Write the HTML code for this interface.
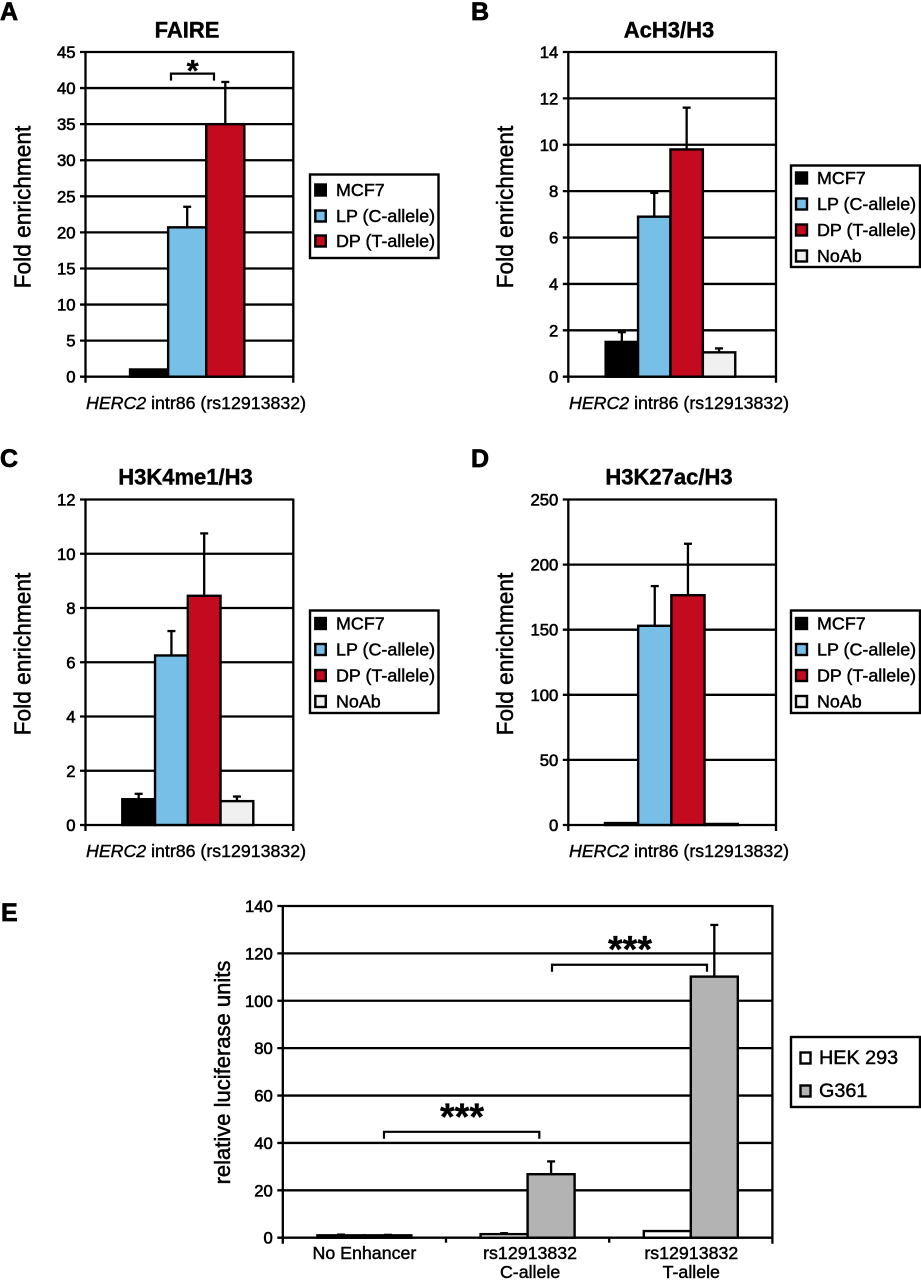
<!DOCTYPE html>
<html lang="en">
<head>
<meta charset="utf-8">
<title>Fold enrichment and luciferase charts</title>
<style>
html,body{margin:0;padding:0;background:#fff;}
svg{display:block;}
text{font-family:"Liberation Sans",sans-serif;fill:#000;stroke:#000;stroke-width:.5px;}
.letter{font-size:25px;font-weight:bold;stroke-width:.7px;}
.title{font-size:22px;font-weight:bold;text-anchor:middle;stroke-width:.4px;}
.ylab{font-size:22.7px;text-anchor:middle;stroke-width:.5px;}
.xlab{font-size:17.75px;stroke-width:.4px;}
.leg{font-size:17.9px;stroke-width:.45px;}
.tick{font-size:16.7px;text-anchor:end;stroke-width:.6px;}
.cat{font-size:17.8px;text-anchor:middle;stroke-width:.45px;}
.star{font-weight:bold;text-anchor:middle;stroke-width:.3px;}
.box{fill:#fff;stroke:#000;stroke-width:2.4;}
.sw{stroke:#000;stroke-width:2.4;}
.br{fill:none;stroke:#000;stroke-width:2.2;}
</style>
</head>
<body>
<svg id="figure" xmlns="http://www.w3.org/2000/svg" width="921" height="1280" viewBox="0 0 921 1280">
  <rect width="921" height="1280" fill="#fff"/>

  <g id="panel-a">
    <text class="letter" x="0" y="20">A</text>
    <text class="title" x="187" y="37.5">FAIRE</text>
    <text class="ylab" transform="translate(30.5 207) rotate(-90)">Fold enrichment</text>
    <text class="xlab" x="86" y="409"><tspan font-style="italic">HERC2</tspan> intr86 (rs12913832)</text>
  </g>
  <g>
    <text class="star" x="192.7" y="81" font-size="31">*</text>
  </g>
  <g>
    <rect class="box" x="310" y="174.5" width="128.5" height="83.5"/>
    <rect class="sw" x="315.3" y="184.5" width="10.5" height="11" fill="#000"/>
    <text class="leg" x="336" y="196">MCF7</text>
    <rect class="sw" x="315.3" y="210.5" width="10.5" height="11" fill="#78bfe8"/>
    <text class="leg" x="336" y="222">LP (C-allele)</text>
    <rect class="sw" x="315.3" y="235.5" width="10.5" height="11" fill="#c40a1f"/>
    <text class="leg" x="336" y="247">DP (T-allele)</text>
  </g>

  <g id="panel-b">
    <text class="letter" x="471" y="20">B</text>
    <text class="title" x="669" y="37.5">AcH3/H3</text>
    <text class="ylab" transform="translate(513 207) rotate(-90)">Fold enrichment</text>
    <text class="xlab" x="569" y="409"><tspan font-style="italic">HERC2</tspan> intr86 (rs12913832)</text>
  </g>
  <g>
    <rect class="box" x="791" y="165.5" width="129" height="101.5"/>
    <rect class="sw" x="796" y="172.5" width="11" height="11" fill="#000"/>
    <text class="leg" x="817" y="184">MCF7</text>
    <rect class="sw" x="796" y="198.5" width="11" height="11" fill="#78bfe8"/>
    <text class="leg" x="817" y="210">LP (C-allele)</text>
    <rect class="sw" x="796" y="224.5" width="11" height="11" fill="#c40a1f"/>
    <text class="leg" x="817" y="236">DP (T-allele)</text>
    <rect class="sw" x="796" y="250.5" width="11" height="11" fill="#f0f0f0"/>
    <text class="leg" x="817" y="262">NoAb</text>
  </g>

  <g id="panel-c">
    <text class="letter" x="0" y="467">C</text>
    <text class="title" x="185.5" y="484.5">H3K4me1/H3</text>
    <text class="ylab" transform="translate(30.5 654) rotate(-90)">Fold enrichment</text>
    <text class="xlab" x="86" y="857"><tspan font-style="italic">HERC2</tspan> intr86 (rs12913832)</text>
  </g>
  <g>
    <rect class="box" x="310" y="610.5" width="128.5" height="102.5"/>
    <rect class="sw" x="315.3" y="618" width="10.5" height="11" fill="#000"/>
    <text class="leg" x="336" y="629.5">MCF7</text>
    <rect class="sw" x="315.3" y="644" width="10.5" height="11" fill="#78bfe8"/>
    <text class="leg" x="336" y="655.5">LP (C-allele)</text>
    <rect class="sw" x="315.3" y="670" width="10.5" height="11" fill="#c40a1f"/>
    <text class="leg" x="336" y="681.5">DP (T-allele)</text>
    <rect class="sw" x="315.3" y="696" width="10.5" height="11" fill="#f0f0f0"/>
    <text class="leg" x="336" y="707.5">NoAb</text>
  </g>

  <g id="panel-d">
    <text class="letter" x="471" y="467">D</text>
    <text class="title" x="669" y="484.5">H3K27ac/H3</text>
    <text class="ylab" transform="translate(513 654) rotate(-90)">Fold enrichment</text>
    <text class="xlab" x="569" y="857"><tspan font-style="italic">HERC2</tspan> intr86 (rs12913832)</text>
  </g>
  <g>
    <rect class="box" x="791" y="610.5" width="129" height="102.5"/>
    <rect class="sw" x="796" y="618" width="11" height="11" fill="#000"/>
    <text class="leg" x="817" y="629.5">MCF7</text>
    <rect class="sw" x="796" y="644" width="11" height="11" fill="#78bfe8"/>
    <text class="leg" x="817" y="655.5">LP (C-allele)</text>
    <rect class="sw" x="796" y="670" width="11" height="11" fill="#c40a1f"/>
    <text class="leg" x="817" y="681.5">DP (T-allele)</text>
    <rect class="sw" x="796" y="696" width="11" height="11" fill="#f0f0f0"/>
    <text class="leg" x="817" y="707.5">NoAb</text>
  </g>

  <g id="panel-e">
    <text class="letter" x="1" y="921">E</text>
    <text class="ylab" transform="translate(230 1072.5) rotate(-90)" style="font-size:22px">relative luciferase units</text>
  </g>
  <g>
    <rect class="box" x="791" y="1037" width="129" height="70"/>
    <rect class="sw" x="800.5" y="1052.5" width="10" height="11" fill="#fff"/>
    <text class="leg" x="819" y="1064" style="font-size:19.8px">HEK 293</text>
    <rect class="sw" x="800.5" y="1085.5" width="10" height="11" fill="#b3b3b3"/>
    <text class="leg" x="819" y="1097" style="font-size:19.8px">G361</text>
  </g>
</svg>

<script>
// ---- Chart data ----
const faireTicks = [0, 5, 10, 15, 20, 25, 30, 35, 40, 45];
const faireMcf7 = [1];
const faireLp = [20.7];
const faireDp = [35];
const faireMcf7Err = [0];
const faireLpErr = [2.85];
const faireDpErr = [5.85];

const ach3Ticks = [0, 2, 4, 6, 8, 10, 12, 14];
const ach3Mcf7 = [1.5];
const ach3Lp = [6.9];
const ach3Dp = [9.8];
const ach3NoAb = [1.05];
const ach3Mcf7Err = [0.42];
const ach3LpErr = [1.03];
const ach3DpErr = [1.8];
const ach3NoAbErr = [0.17];

const h3k4Ticks = [0, 2, 4, 6, 8, 10, 12];
const h3k4Mcf7 = [0.95];
const h3k4Lp = [6.25];
const h3k4Dp = [8.45];
const h3k4NoAb = [0.88];
const h3k4Mcf7Err = [0.2];
const h3k4LpErr = [0.9];
const h3k4DpErr = [2.3];
const h3k4NoAbErr = [0.17];

const h3k27Ticks = [0, 50, 100, 150, 200, 250];
const h3k27Mcf7 = [1.5];
const h3k27Lp = [153];
const h3k27Dp = [176.5];
const h3k27NoAb = [0.8];
const h3k27Mcf7Err = [0];
const h3k27LpErr = [30.5];
const h3k27DpErr = [39.5];
const h3k27NoAbErr = [0];

const lucTicks = [0, 20, 40, 60, 80, 100, 120, 140];
const lucHek = [1, 1.5, 2.8];
const lucG361 = [1, 26.8, 110.2];
const lucHekErr = [0.3, 0.4, 0];
const lucG361Err = [0.2, 5.4, 21.8];
const lucCategories = [["No Enhancer"], ["rs12913832", "C-allele"], ["rs12913832", "T-allele"]];

// ---- Layout and drawing ----
const BLUE = "#78bfe8", RED = "#c40a1f", GREY = "#f0f0f0", MID = "#b3b3b3", BLACK = "#000";
const NS = "http://www.w3.org/2000/svg";
const LINE = 2.3;

function mk(parent, tag, attrs) {
  const el = document.createElementNS(NS, tag);
  for (const k in attrs) el.setAttribute(k, attrs[k]);
  parent.appendChild(el);
  return el;
}

function drawPanel(p) {
  const root = document.getElementById(p.id);
  const yScale = v => p.bottom - (v / p.ticks[p.ticks.length - 1]) * (p.bottom - p.top);
  const n = p.series.length;
  const nCat = p.series[0].values.length;
  const band = (p.right - p.left) / nCat;
  const barLeft = (c, s) => p.left + band * (c + 0.5) + p.shift + (s - n / 2) * p.barWidth;

  p.ticks.forEach(t => {
    const gy = yScale(t);
    const line = mk(root, "line", {x1: p.left - 5.5, x2: p.right, y1: gy, y2: gy, stroke: "#000", "stroke-width": LINE});
    
    
    const label = mk(root, "text", {class: "tick", x: p.left - 10, y: gy + 6});
    label.textContent = t;
    
    
  });

  const axisLeft = mk(root, "line", {x1: p.left, x2: p.left, y1: p.top - 1, y2: p.bottom + 6, stroke: "#000", "stroke-width": LINE});
  
  
  const axisRight = mk(root, "line", {x1: p.right, x2: p.right, y1: p.top - 1, y2: p.bottom + 6, stroke: "#000", "stroke-width": LINE});
  
  

  for (let c = 1; c < nCat; c++) {
    const tk = mk(root, "line", {x1: p.left + band * c, x2: p.left + band * c, y1: p.bottom, y2: p.bottom + 5, stroke: "#000", "stroke-width": LINE});
    
    
  }

  p.series.forEach((s, si) => {
    s.values.forEach((v, c) => {
      const bx = barLeft(c, si);
      const err = s.errors[c];
      if (err > 0) {
        const ex = bx + p.barWidth / 2;
        const ey = yScale(v + err);
        const stem = mk(root, "line", {x1: ex, x2: ex, y1: yScale(v), y2: ey, stroke: "#000", "stroke-width": LINE});
        
        
        const cap = mk(root, "line", {x1: ex - 4, x2: ex + 4, y1: ey, y2: ey, stroke: "#000", "stroke-width": LINE});
        
        
      }
      const bar = mk(root, "rect", {x: bx, y: yScale(v), width: p.barWidth, height: yScale(0) - yScale(v), fill: s.fill, stroke: "#000", "stroke-width": 2.4});
      
      
    });
  });

  if (p.categories) {
    p.categories.forEach((lines, c) => {
      lines.forEach((txt, li) => {
        const label = mk(root, "text", {class: "cat", x: p.left + band * (c + 0.5) + p.labelShift[c], y: p.bottom + 21.5 + li * 19});
        label.textContent = txt;
        
        
      });
    });
  }

  (p.brackets || []).forEach(b => {
    const y1 = yScale(b.level);
    const path = mk(root, "path", {class: "br", d: "M" + b.from + " " + (y1 + 7) + "V" + y1 + "H" + b.to + "V" + (y1 + 7)});
    
    
    if (b.stars) {
      const st = mk(root, "text", {class: "star", x: b.starX, y: y1 - b.rise, "font-size": b.size});
      st.textContent = b.stars;
      
      
    }
  });
}

drawPanel({id: "panel-a", left: 85.5, right: 293.3, top: 52, bottom: 376.7, barWidth: 38.1, shift: -2.2, ticks: faireTicks,
  series: [
    {name: "mcf7", fill: BLACK, values: faireMcf7, errors: faireMcf7Err},
    {name: "lp", fill: BLUE, values: faireLp, errors: faireLpErr},
    {name: "dp", fill: RED, values: faireDp, errors: faireDpErr}],
  brackets: [{from: 171, to: 214, level: 42}]});

drawPanel({id: "panel-b", left: 568.3, right: 776, top: 52, bottom: 376.7, barWidth: 32.4, shift: -1.7, ticks: ach3Ticks,
  series: [
    {name: "mcf7", fill: BLACK, values: ach3Mcf7, errors: ach3Mcf7Err},
    {name: "lp", fill: BLUE, values: ach3Lp, errors: ach3LpErr},
    {name: "dp", fill: RED, values: ach3Dp, errors: ach3DpErr},
    {name: "noab", fill: GREY, values: ach3NoAb, errors: ach3NoAbErr}]});

drawPanel({id: "panel-c", left: 85.5, right: 293.3, top: 499.5, bottom: 825, barWidth: 32.75, shift: -1.6, ticks: h3k4Ticks,
  series: [
    {name: "mcf7", fill: BLACK, values: h3k4Mcf7, errors: h3k4Mcf7Err},
    {name: "lp", fill: BLUE, values: h3k4Lp, errors: h3k4LpErr},
    {name: "dp", fill: RED, values: h3k4Dp, errors: h3k4DpErr},
    {name: "noab", fill: GREY, values: h3k4NoAb, errors: h3k4NoAbErr}]});

drawPanel({id: "panel-d", left: 568.3, right: 776, top: 499.5, bottom: 825, barWidth: 33.2, shift: -0.8, ticks: h3k27Ticks,
  series: [
    {name: "mcf7", fill: BLACK, values: h3k27Mcf7, errors: h3k27Mcf7Err},
    {name: "lp", fill: BLUE, values: h3k27Lp, errors: h3k27LpErr},
    {name: "dp", fill: RED, values: h3k27Dp, errors: h3k27DpErr},
    {name: "noab", fill: GREY, values: h3k27NoAb, errors: h3k27NoAbErr}]});

drawPanel({id: "panel-e", left: 282.8, right: 772.4, top: 906, bottom: 1237.7, barWidth: 47, shift: 0, ticks: lucTicks,
  categories: lucCategories, labelShift: [0, 2.5, 0.5],
  series: [
    {name: "hek293", fill: "#fff", values: lucHek, errors: lucHekErr},
    {name: "g361", fill: MID, values: lucG361, errors: lucG361Err}],
  brackets: [
    {from: 384, to: 539.3, level: 44.7, stars: "***", starX: 462, rise: 2.5, size: 37.7},
    {from: 552, to: 707, level: 115.2, stars: "***", starX: 630, rise: 2.7, size: 37.7}]});
</script>
</body>
</html>
